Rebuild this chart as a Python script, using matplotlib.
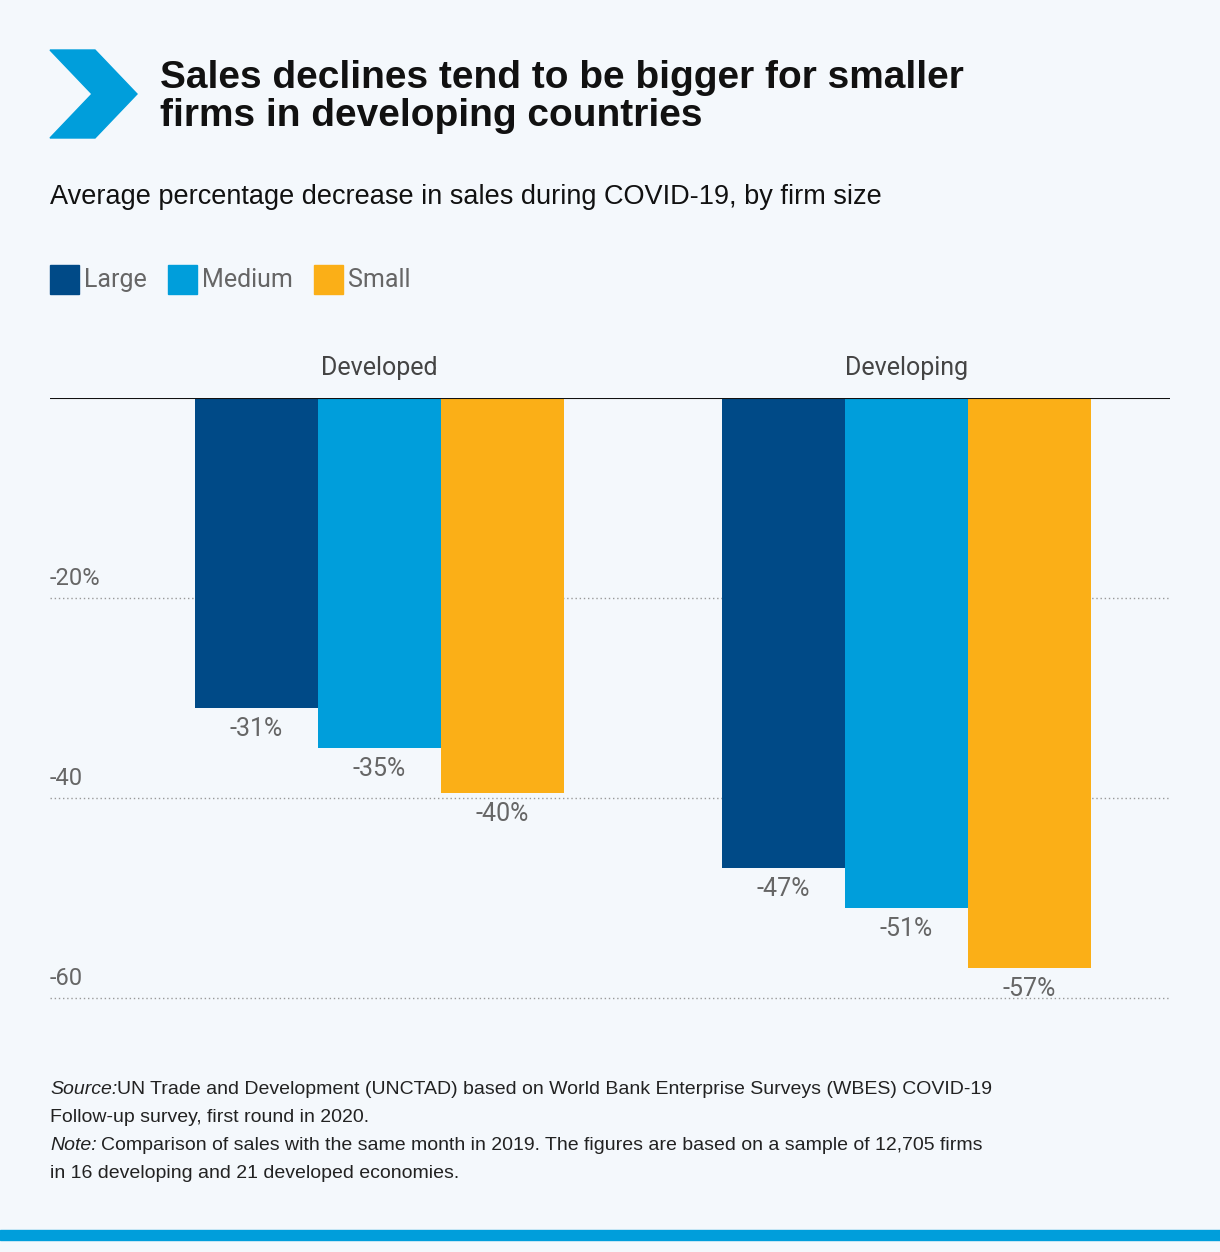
import matplotlib
matplotlib.use("Agg")
import matplotlib.pyplot as plt
from matplotlib.patches import Polygon, Rectangle
import numpy as np

groups = ["Developed", "Developing"]
series = ["Large", "Medium", "Small"]
values = {"Large": [-31, -47], "Medium": [-35, -51], "Small": [-39.5, -57]}
labels = {"Large": ["-31%", "-47%"], "Medium": ["-35%", "-51%"], "Small": ["-40%", "-57%"]}
colors = {"Large": "#004a87", "Medium": "#009edb", "Small": "#fbaf17"}
yticks = [-20, -40, -60]
yticklabels = ["-20%", "-40", "-60"]

BG = "#f4f8fc"
W, H = 1220, 1252
SANS = ['Liberation Sans', 'DejaVu Sans']
COND = ['Roboto', 'DejaVu Sans']
plt.rcParams['font.family'] = SANS
fig = plt.figure(figsize=(W/100, H/100), dpi=100, facecolor=BG)

def fx(x): return x / W
def fy(y): return 1 - y / H

pts = [(50, 50), (95, 50), (137, 94), (95, 138), (50, 138), (92, 94)]
fig.patches.append(Polygon([(fx(a), fy(b)) for a, b in pts], closed=True,
                           transform=fig.transFigure, color="#009edb"))
fig.text(fx(160), fy(97), "Sales declines tend to be bigger for smaller\nfirms in developing countries",
         fontsize=28, fontweight="bold", va="center", ha="left", linespacing=1.1, color="#111")
fig.text(fx(50), fy(197), "Average percentage decrease in sales during COVID-19, by firm size",
         fontsize=19.5, va="center", ha="left", color="#111")

legend_x = {"Large": 50, "Medium": 168, "Small": 314}
for s in series:
    lx = legend_x[s]
    fig.patches.append(Rectangle((fx(lx), fy(294)), 29/W, 29/H, transform=fig.transFigure,
                                 color=colors[s]))
    fig.text(fx(lx + 34), fy(280), s, fontsize=18, va="center", ha="left", color="#666",
             family=COND)

ax = fig.add_axes([fx(50), fy(1008), (1170-50)/W, (1008-398)/H])
ax.set_facecolor(BG)
ax.set_xlim(-0.625, 1.5)
ax.set_ylim(-61, 0)
bw = 123/527
x = np.arange(len(groups))
for i, s in enumerate(series):
    xs = x + (i-1)*bw
    ax.bar(xs, values[s], width=bw, color=colors[s], zorder=3)
    for xi, v, l in zip(xs, values[s], labels[s]):
        ax.text(xi, v - 0.9, l, ha="center", va="top", fontsize=18, color="#666", zorder=4,
                family=COND)
for t, tl in zip(yticks, yticklabels):
    ax.axhline(t, color="#999", ls=(0, (1, 2)), lw=1, zorder=1)
    ax.text(-0.625, t + 0.8, tl, ha="left", va="bottom", fontsize=17, color="#666", family=COND)
ax.axhline(0, color="#111", lw=1.5, zorder=5)
for xi, g in zip(x, groups):
    ax.text(xi, 1.8, g, ha="center", va="bottom", fontsize=18, color="#444", family=COND)
for sp in ax.spines.values():
    sp.set_visible(False)
ax.set_xticks([]); ax.set_yticks([])

fs = 14
c = "#222"
fig.text(fx(50), fy(1090), "Source:", fontsize=fs, va="center", style="italic", color=c)
fig.text(fx(117), fy(1090), "UN Trade and Development (UNCTAD) based on World Bank Enterprise Surveys (WBES) COVID-19",
         fontsize=fs, va="center", color=c)
fig.text(fx(50), fy(1118), "Follow-up survey, first round in 2020.", fontsize=fs, va="center", color=c)
fig.text(fx(50), fy(1146), "Note:", fontsize=fs, va="center", style="italic", color=c)
fig.text(fx(101), fy(1146), "Comparison of sales with the same month in 2019. The figures are based on a sample of 12,705 firms",
         fontsize=fs, va="center", color=c)
fig.text(fx(50), fy(1174), "in 16 developing and 21 developed economies.", fontsize=fs, va="center", color=c)

fig.patches.append(Rectangle((0, fy(1240)), 1, 10/H, transform=fig.transFigure, color="#009edb"))
fig.savefig("out.png", dpi=100, facecolor=BG)
